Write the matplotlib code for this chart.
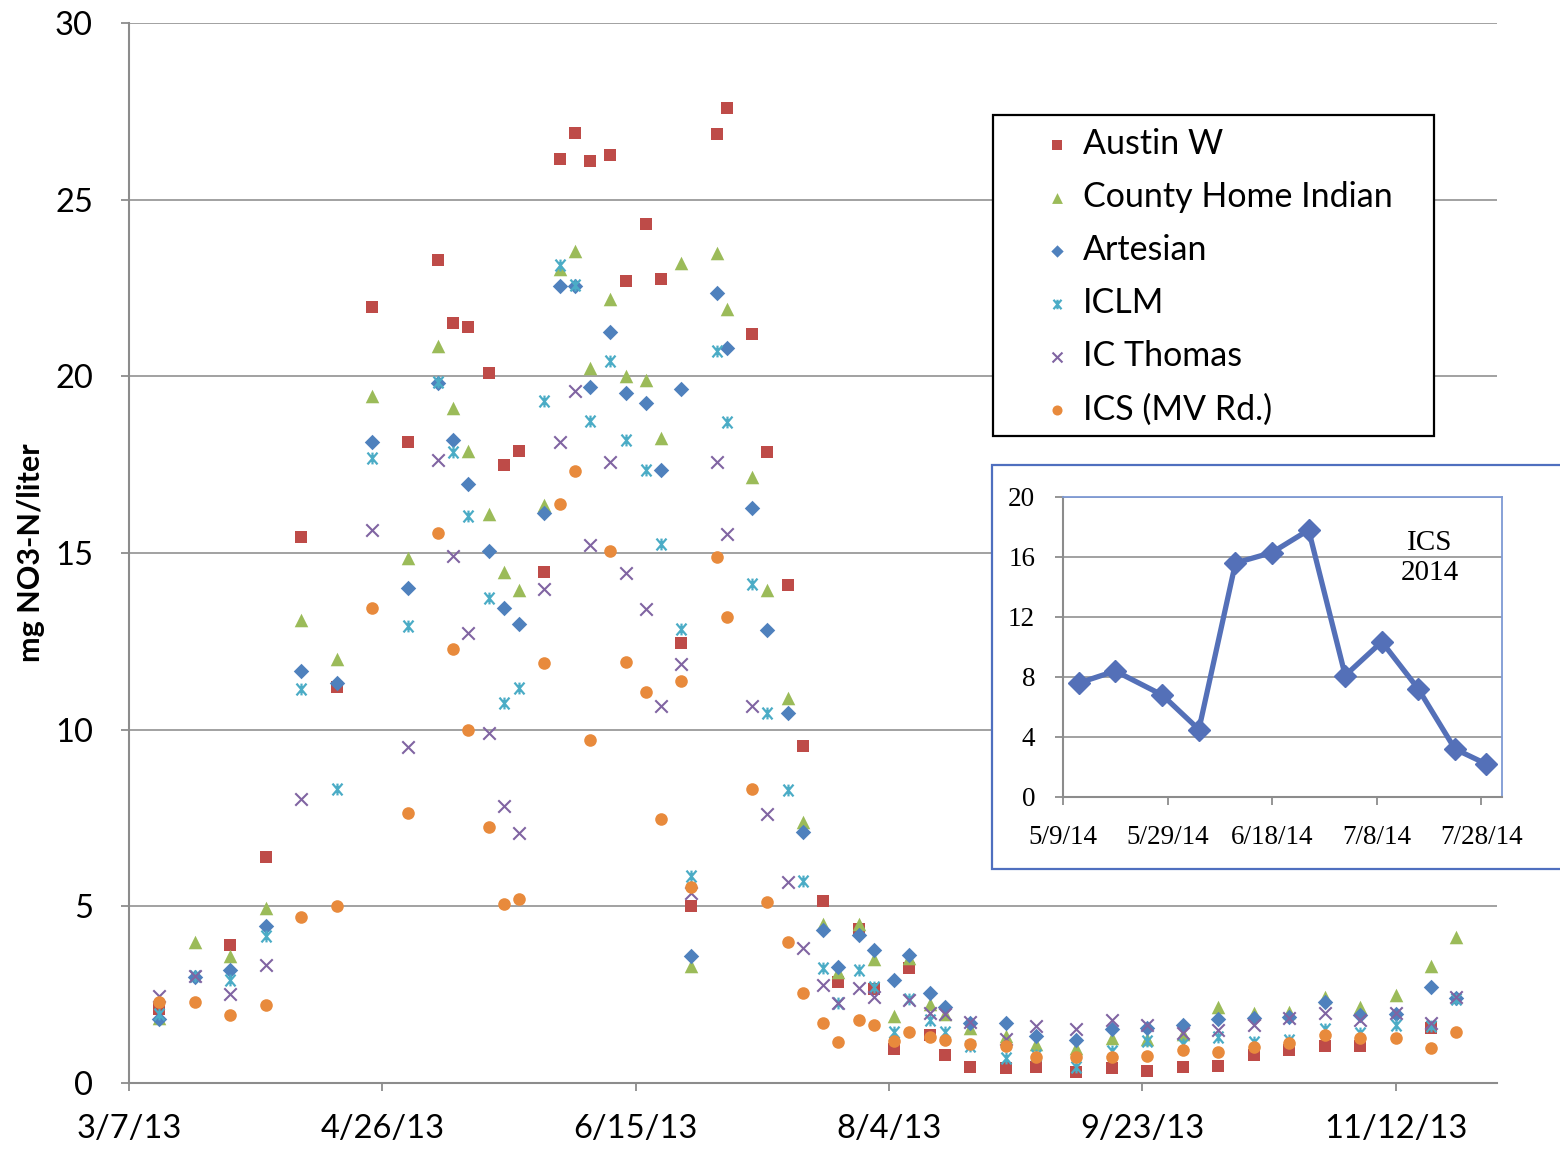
import numpy as np
import pandas as pd
import matplotlib
matplotlib.use("Agg")
import matplotlib.pyplot as plt
import matplotlib.dates as mdates
from matplotlib.patches import Rectangle
from matplotlib.path import Path
from matplotlib.ticker import FuncFormatter

nan = np.nan

# 2013 sampling dates
sample_dates = pd.to_datetime([
    "3/13/13", "3/20/13", "3/27/13", "4/3/13", "4/10/13", "4/17/13", "4/24/13",
    "5/1/13", "5/7/13", "5/10/13", "5/13/13", "5/17/13", "5/20/13", "5/23/13",
    "5/28/13", "5/31/13", "6/3/13", "6/6/13", "6/10/13", "6/13/13", "6/17/13",
    "6/20/13", "6/24/13", "6/26/13", "7/1/13", "7/3/13", "7/8/13", "7/11/13",
    "7/15/13", "7/18/13", "7/22/13", "7/25/13", "7/29/13", "8/1/13", "8/5/13",
    "8/8/13", "8/12/13", "8/15/13", "8/20/13", "8/27/13", "9/2/13", "9/10/13",
    "9/17/13", "9/24/13", "10/1/13", "10/8/13", "10/15/13", "10/22/13",
    "10/29/13", "11/5/13", "11/12/13", "11/19/13", "11/24/13",
], format="%m/%d/%y")

austin_w = [
    2.1, nan, 3.9, 6.4, 15.45, 11.2, 21.95, 18.15, 23.3, 21.5, 21.4, 20.1, 17.5,
    17.9, 14.45, 26.15, 26.9, 26.1, 26.25, 22.7, 24.3, 22.75, 12.45, 5.0, 26.85,
    27.6, 21.2, 17.85, 14.1, 9.55, 5.15, 2.85, 4.35, 2.65, 0.95, 3.25, 1.35, 0.8,
    0.45, 0.42, 0.45, 0.32, 0.42, 0.35, 0.45, 0.47, 0.8, 0.92, 1.05, 1.05, nan,
    1.55, nan,
]
county_home_indian = [
    1.85, 4.0, 3.6, 4.95, 13.1, 12.0, 19.45, 14.85, 20.85, 19.1, 17.9, 16.1,
    14.45, 13.95, 16.35, 23.05, 23.55, 20.25, 22.2, 20.0, 19.9, 18.25, 23.2, 3.3,
    23.5, 21.9, 17.15, 13.95, 10.9, 7.4, 4.5, 3.15, 4.5, 3.5, 1.9, 3.55, 2.25,
    1.95, 1.55, 1.33, 1.1, 1.0, 1.27, 1.25, 1.4, 2.15, 1.97, 2.02, 2.44, 2.16,
    2.49, 3.31, 4.13,
]
artesian = [
    1.8, 3.0, 3.2, 4.43, 11.65, 11.33, 18.13, 14.02, 19.8, 18.2, 16.95, 15.07,
    13.45, 12.98, 16.13, 22.55, 22.55, 19.7, 21.25, 19.53, 19.25, 17.35, 19.65,
    3.6, 22.35, 20.8, 16.27, 12.83, 10.47, 7.1, 4.34, 3.28, 4.2, 3.77, 2.92, 3.62,
    2.54, 2.16, 1.71, 1.71, 1.33, 1.22, 1.52, 1.57, 1.63, 1.82, 1.83, 1.88, 2.3,
    1.92, 1.95, 2.71, 2.4,
]
iclm = [
    1.95, 3.03, 2.92, 4.15, 11.14, 8.33, 17.7, 12.94, 19.85, 17.85, 16.05, 13.74,
    10.75, 11.18, 19.29, 23.14, 22.59, 18.73, 20.42, 18.21, 17.34, 15.26, 12.86,
    5.87, 20.71, 18.7, 14.12, 10.47, 8.3, 5.73, 3.25, 2.27, 3.2, 2.71, 1.45, 2.37,
    1.78, 1.45, 1.04, 0.71, 0.8, 0.45, 0.91, 1.18, 1.1, 1.3, 1.16, 1.23, 1.54,
    1.42, 1.64, 1.61, 2.37,
]
ic_thomas = [
    2.45, 3.03, 2.51, 3.35, 8.04, nan, 15.66, 9.51, 17.62, 14.91, 12.74, 9.91,
    7.85, 7.07, 13.98, 18.13, 19.58, 15.22, 17.58, 14.43, 13.42, 10.66, 11.85,
    5.38, 17.58, 15.55, 10.66, 7.62, 5.68, 3.82, 2.76, 2.27, 2.7, 2.42, nan, 2.35,
    1.97, 1.95, 1.73, 1.25, 1.62, 1.52, 1.78, 1.64, 1.42, 1.49, 1.64, 1.83, 1.97,
    1.78, 1.97, 1.69, 2.42,
]
ics_mv_rd = [
    2.3, 2.3, 1.93, 2.2, 4.71, 5.01, 13.45, 7.63, 15.56, 12.29, 9.98, 7.25, 5.07,
    5.21, 11.89, 16.39, 17.33, 9.7, 15.07, 11.92, 11.08, 7.47, 11.37, 5.55, 14.88,
    13.2, 8.33, 5.11, 3.98, 2.54, 1.69, 1.16, 1.78, 1.64, 1.18, 1.45, 1.29, 1.21,
    1.09, 1.05, 0.75, 0.75, 0.73, 0.77, 0.94, 0.88, 1.02, 1.12, 1.35, 1.26, 1.26,
    0.98, 1.45,
]

# ICS 2014 follow-up series
ics_2014_dates = pd.to_datetime([
    "5/12/14", "5/19/14", "5/28/14", "6/4/14", "6/11/14", "6/18/14", "6/25/14",
    "7/2/14", "7/9/14", "7/16/14", "7/23/14", "7/29/14",
], format="%m/%d/%y")
ics_2014 = [7.6, 8.4, 6.8, 4.5, 15.6, 16.3, 17.8, 8.1, 10.35, 7.2, 3.2, 2.2]

# asterisk marker: an X with a vertical bar through it
star_path = Path(
    [(-0.85, -1), (0.85, 1), (-0.85, 1), (0.85, -1), (0, -1), (0, 1)],
    [Path.MOVETO, Path.LINETO, Path.MOVETO, Path.LINETO, Path.MOVETO, Path.LINETO],
)

series = [
    ("Austin W", austin_w, "s", "#BE4B48", 72, 0),
    ("County Home Indian", county_home_indian, "^", "#9BBB59", 95, 0),
    ("Artesian", artesian, "D", "#4F81BD", 62, 0),
    ("ICLM", iclm, star_path, "#4BACC6", 72, 1.6),
    ("IC Thomas", ic_thomas, "x", "#8064A2", 80, 1.5),
    ("ICS (MV Rd.)", ics_mv_rd, "o", "#E88A3C", 82, 0),
]

main_font = "Lato"
serif_font = "Liberation Serif"


def date_label(v, pos):
    d = mdates.num2date(v)
    return f"{d.month}/{d.day}/{d:%y}"


fig = plt.figure(figsize=(15.6, 11.5), dpi=100)
ax = fig.add_axes([129 / 1560, 1 - 1083 / 1150, (1497 - 129) / 1560, (1083 - 23) / 1150])

handles = []
for name, values, marker, color, size, lw in series:
    h = ax.scatter(sample_dates, values, marker=marker, s=size, color=color,
                   linewidths=lw, zorder=3, label=name)
    handles.append(h)

x_start = pd.Timestamp("2013-03-07")
ax.set_xlim(x_start, x_start + pd.Timedelta(days=270))
ax.set_xticks(pd.date_range(x_start, periods=6, freq="50D"))
ax.xaxis.set_major_formatter(FuncFormatter(date_label))
ax.set_ylim(0, 30)
ax.set_yticks(range(0, 31, 5))
ax.grid(axis="y", color="#9a9a9a", linewidth=1.3)
ax.set_axisbelow(True)
for side in ("top", "right"):
    ax.spines[side].set_visible(False)
for side in ("left", "bottom"):
    ax.spines[side].set_color("#8c8c8c")
    ax.spines[side].set_linewidth(1.5)
ax.tick_params(axis="both", colors="#8c8c8c", labelcolor="black", length=6, width=1.3)
ax.tick_params(axis="x", pad=16)
ax.tick_params(axis="y", pad=20)
for lab in ax.get_xticklabels() + ax.get_yticklabels():
    lab.set_fontfamily(main_font)
    lab.set_fontsize(23.5)
fig.text(31 / 1560, 1 - 553 / 1150, "mg NO3-N/liter", rotation=90, ha="center",
         va="center", fontsize=22, fontweight="bold", family=main_font)

# legend box
fig.add_artist(Rectangle((993 / 1560, 1 - 436 / 1150), 441 / 1560, 321 / 1150,
                         transform=fig.transFigure, facecolor="white",
                         edgecolor="black", linewidth=1.6, zorder=4))
leg = fig.legend(handles=handles, loc="upper left", bbox_to_anchor=(1040 / 1560, 0.889),
                 frameon=False, borderpad=0, borderaxespad=0, handlelength=1.0,
                 handletextpad=0.25, labelspacing=0.62, markerscale=0.8,
                 prop={"family": main_font, "size": 24.5})
leg.set_zorder(5)

# inset frame and ICS 2014 line chart
fig.add_artist(Rectangle((992 / 1560, 1 - 869 / 1150), 0.4, (869 - 465) / 1150,
                         transform=fig.transFigure, facecolor="white",
                         edgecolor="#4F6FBF", linewidth=1.6, zorder=4))
ax2 = fig.add_axes([1063 / 1560, 1 - 797 / 1150, (1502 - 1063) / 1560, (797 - 497) / 1150],
                   zorder=6)
ax2.plot(ics_2014_dates, ics_2014, color="#5470B8", linewidth=3.8, marker="D",
         markersize=11, zorder=3)
inset_start = pd.Timestamp("2014-05-09")
ax2.set_xlim(inset_start, pd.Timestamp("2014-08-01"))
ax2.set_xticks(pd.date_range(inset_start, periods=5, freq="20D"))
ax2.xaxis.set_major_formatter(FuncFormatter(date_label))
ax2.set_ylim(0, 20)
ax2.set_yticks(range(0, 21, 4))
ax2.grid(axis="y", color="#9a9a9a", linewidth=1.3)
ax2.set_axisbelow(True)
for side in ("top", "right"):
    ax2.spines[side].set_color("#7E9AD4")
    ax2.spines[side].set_linewidth(1.3)
for side in ("left", "bottom"):
    ax2.spines[side].set_color("#8c8c8c")
    ax2.spines[side].set_linewidth(1.5)
ax2.tick_params(axis="both", colors="#8c8c8c", labelcolor="black", length=6, width=1.3)
ax2.tick_params(axis="x", pad=14)
ax2.tick_params(axis="y", pad=14)
for lab in ax2.get_xticklabels() + ax2.get_yticklabels():
    lab.set_fontfamily(serif_font)
    lab.set_fontsize(19.5)
ax2.text(0.835, 0.795, "ICS\n2014", transform=ax2.transAxes, ha="center", va="center",
         fontsize=21, family=serif_font, linespacing=1.2)

fig.savefig("out.png", dpi=100)
